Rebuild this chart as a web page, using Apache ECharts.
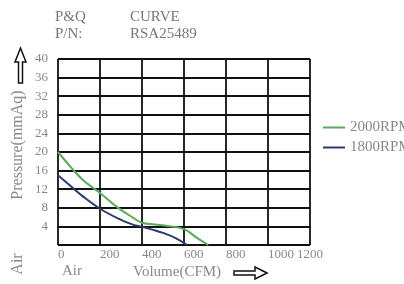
<!DOCTYPE html>
<html>
<head>
<meta charset="utf-8">
<script src="https://cdn.jsdelivr.net/npm/echarts@6/dist/echarts.min.js"></script>
<style>html,body{margin:0;padding:0;background:#fff;}#c{width:404px;height:284px;}</style>
</head>
<body>
<div id="c"></div>
<script>
// Data
var xTicks = [0, 200, 400, 600, 800, 1000, 1200];
var yTicks = [4, 8, 12, 16, 20, 24, 28, 32, 36, 40];
var rpm2000X = [0, 60, 120, 200, 280, 360, 400, 460, 520, 600, 660, 715];
var rpm2000Y = [20, 16.8, 13.9, 11.2, 8.2, 5.8, 4.8, 4.4, 4.1, 3.4, 1.6, 0];
var rpm1800X = [0, 60, 120, 200, 300, 350, 400, 450, 500, 560, 615];
var rpm1800Y = [15, 12.7, 10.4, 7.8, 5.4, 4.5, 3.9, 3.3, 2.6, 1.5, 0];
var seriesNames = ['2000RPM', '1800RPM'];

function pairs(xs, ys) { return xs.map(function (x, i) { return [x, ys[i]]; }); }

var serifFont = '"Liberation Serif", "DejaVu Serif", serif';
var chart = echarts.init(document.getElementById('c'), null, {renderer: 'canvas'});
chart.setOption({
  backgroundColor: '#fff',
  animation: false,
  grid: {left: 58, right: 94, top: 59, bottom: 39, containLabel: false},
  xAxis: {
    type: 'value', min: 0, max: 1200, interval: 200,
    axisLine: {show: false}, axisTick: {show: false},
    splitLine: {show: true, lineStyle: {color: '#111', width: 1.8}},
    axisLabel: {
      color: '#888', fontFamily: serifFont, fontSize: 13, margin: 3, align: 'left',
      alignMaxLabel: 'center',
      formatter: function (v) { return xTicks.indexOf(v) >= 0 ? String(v) : ''; }
    }
  },
  yAxis: {
    type: 'value', min: 0, max: 40, interval: 4,
    axisLine: {show: false}, axisTick: {show: false},
    splitLine: {show: true, lineStyle: {color: '#111', width: 1.8}},
    axisLabel: {
      color: '#888', fontFamily: serifFont, fontSize: 13, margin: 10,
      formatter: function (v) { return yTicks.indexOf(v) >= 0 ? String(v) : ''; }
    }
  },
  legend: {
    orient: 'vertical', left: 318, top: 115, itemGap: 5,
    itemWidth: 22, itemHeight: 2, icon: 'rect',
    textStyle: {color: '#888', fontFamily: serifFont, fontSize: 15, lineHeight: 15},
    data: seriesNames
  },
  series: [
    {name: seriesNames[0], type: 'line', smooth: 0.4, showSymbol: false,
     lineStyle: {color: '#5aab5a', width: 2}, itemStyle: {color: '#5aab5a'},
     data: pairs(rpm2000X, rpm2000Y), z: 3},
    {name: seriesNames[1], type: 'line', smooth: 0.4, showSymbol: false,
     lineStyle: {color: '#2c3a72', width: 2}, itemStyle: {color: '#2c3a72'},
     data: pairs(rpm1800X, rpm1800Y), z: 4}
  ],
  graphic: [
    {type: 'text', left: 55, top: 10, style: {text: 'P&Q', fill: '#777', font: '15px ' + serifFont}},
    {type: 'text', left: 55, top: 27, style: {text: 'P/N:', fill: '#777', font: '15px ' + serifFont}},
    {type: 'text', left: 130, top: 10, style: {text: 'CURVE', fill: '#777', font: '15px ' + serifFont}},
    {type: 'text', left: 130, top: 27, style: {text: 'RSA25489', fill: '#777', font: '15px ' + serifFont}},
    {type: 'text', x: 18, y: 145, rotation: Math.PI / 2,
     style: {text: 'Pressure(mmAq)', fill: '#888', font: '16px ' + serifFont, align: 'center', verticalAlign: 'middle'}},
    {type: 'text', x: 18, y: 264, rotation: Math.PI / 2,
     style: {text: 'Air', fill: '#888', font: '16px ' + serifFont, align: 'center', verticalAlign: 'middle'}},
    {type: 'text', x: 62, y: 271,
     style: {text: 'Air', fill: '#888', font: '15px ' + serifFont, align: 'left', verticalAlign: 'middle'}},
    {type: 'text', x: 133, y: 272,
     style: {text: 'Volume(CFM)', fill: '#888', font: '15px ' + serifFont, align: 'left', verticalAlign: 'middle'}},
    {type: 'polygon', shape: {points: [[20.5, 48], [26, 62], [22.5, 62], [22.5, 83], [18.5, 83], [18.5, 62], [15, 62]]},
     style: {fill: '#fff', stroke: '#111', lineWidth: 1.5}},
    {type: 'polygon', shape: {points: [[267, 273], [255, 267], [255, 271], [234, 271], [234, 275], [255, 275], [255, 279]]},
     style: {fill: '#fff', stroke: '#111', lineWidth: 1.5}}
  ]
});
</script>
</body>
</html>
